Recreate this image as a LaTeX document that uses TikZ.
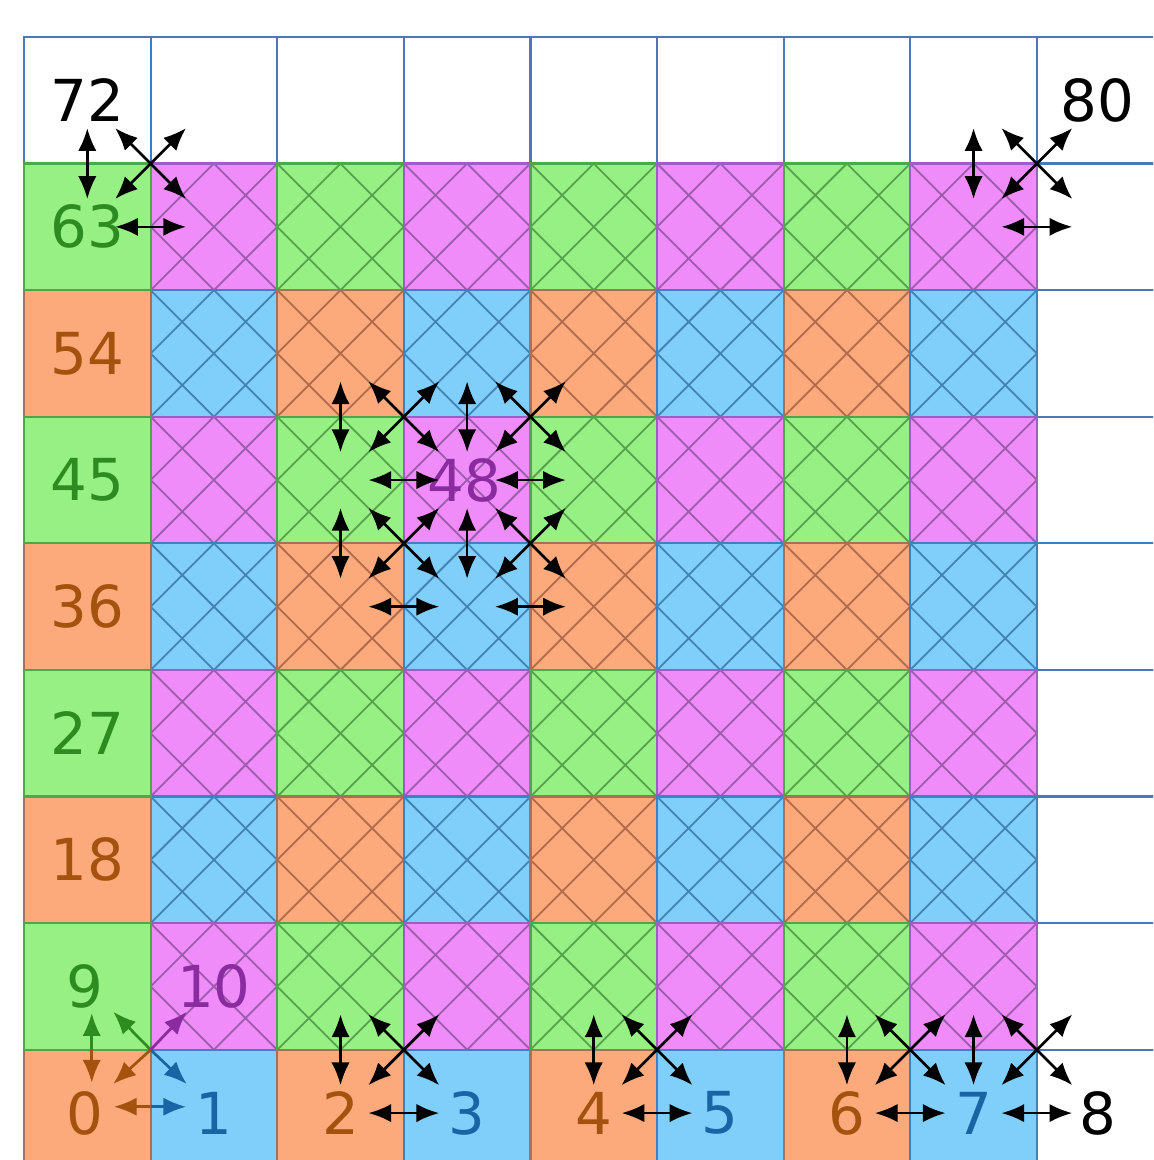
\documentclass[tikz,border=0pt]{standalone}
\usepackage{fontspec}
\setmainfont{DejaVu Sans}
\usetikzlibrary{arrows.meta,calc}
\definecolor{OF}{HTML}{FCA97B}\definecolor{OD}{HTML}{A8705A}\definecolor{OH}{HTML}{B06A4C}\definecolor{OL}{HTML}{A5520E}
\definecolor{BF}{HTML}{80CEFA}\definecolor{BD}{HTML}{3A82C4}\definecolor{BH}{HTML}{4282B4}\definecolor{BL}{HTML}{1864A5}
\definecolor{GF}{HTML}{96F084}\definecolor{GD}{HTML}{4CA848}\definecolor{GH}{HTML}{56A24C}\definecolor{GL}{HTML}{2E8B1F}
\definecolor{PF}{HTML}{F08CF9}\definecolor{PD}{HTML}{A05CC4}\definecolor{PH}{HTML}{9C5CAC}\definecolor{PL}{HTML}{8A2BA0}
\definecolor{gridc}{HTML}{4A78BC}
\newcommand\stencilgrp[3]{%
  \coordinate (#3va) at (#1-0.5,#2+0.28);
  \coordinate (#3vb) at (#1-0.5,#2-0.28);
  \coordinate (#3da) at (#1-0.28,#2+0.28);
  \coordinate (#3db) at (#1+0.28,#2-0.28);
  \coordinate (#3ea) at (#1-0.28,#2-0.28);
  \coordinate (#3eb) at (#1+0.28,#2+0.28);
  \coordinate (#3ha) at (#1-0.28,#2-0.5);
  \coordinate (#3hb) at (#1+0.28,#2-0.5);
  \draw[biarrow] (#3va) -- (#3vb);
  \draw[biarrow] (#3da) -- (#3db);
  \draw[biarrow] (#3ea) -- (#3eb);
  \draw[biarrow] (#3ha) -- (#3hb);
}
\newcommand\cellat[2]{%
  \pgfmathtruncatemacro\k{mod(#2,2)*2+mod(#1,2)}%
  \ifcase\k \def\cn{O}\or \def\cn{B}\or \def\cn{G}\or \def\cn{P}\fi
  \fill[\cn F] (#1,#2) rectangle ++(1,1);
  \ifnum#1>0 \ifnum#2>0
    \draw[\cn H, line width=0.4pt] (#1,#2+0.5) -- ++(0.5,0.5) (#1,#2) -- ++(1,1) (#1+0.5,#2) -- ++(0.5,0.5)
      (#1,#2+0.5) -- ++(0.5,-0.5) (#1,#2+1) -- ++(1,-1) (#1+0.5,#2+1) -- ++(0.5,-0.5);
  \fi\fi
  \draw[\cn D, line width=0.5pt] (#1,#2) rectangle ++(1,1);
}
\begin{document}
\begin{tikzpicture}[x=1cm,y=1cm,
  biarrow/.style={{Latex[length=1.8mm,width=1.45mm]}-{Latex[length=1.8mm,width=1.45mm]}, line width=0.6pt, black},
  halfarrow/.style={-{Latex[length=1.8mm,width=1.45mm]}, line width=0.6pt},
  gridline/.style={draw=gridc, line width=0.5pt},
  lab/.style={font=\fontsize{13}{15}\selectfont, inner sep=0pt}]
\useasboundingbox (-0.1896,0.1295) rectangle (8.918,9.292);
\clip (-0.1896,0.1295) rectangle (8.918,9.292);
% white cells
\foreach \c in {0,...,8} \draw[gridline] (\c,8) rectangle ++(1,1);
\foreach \r in {0,...,7} \draw[gridline] (8,\r) rectangle ++(1,1);
% coloured cells
\foreach \r in {7,6,...,0} {
  \foreach \c in {1,...,7} { \cellat{\c}{\r} }
}
\foreach \r in {6,4,2,0} { \cellat{0}{\r} }
\foreach \r in {7,5,3,1} { \cellat{0}{\r} }
% labels
\node[lab, text=black] (n72) at (0.5,8.5) {72};
\node[lab, text=black] (n80) at (8.48,8.5) {80};
\node[lab, text=GL] (n63) at (0.5,7.5) {63};
\node[lab, text=OL] (n54) at (0.5,6.5) {54};
\node[lab, text=GL] (n45) at (0.5,5.5) {45};
\node[lab, text=OL] (n36) at (0.5,4.5) {36};
\node[lab, text=GL] (n27) at (0.5,3.5) {27};
\node[lab, text=OL] (n18) at (0.5,2.5) {18};
\node[lab, text=GL] (n9) at (0.48,1.5) {9};
\node[lab, text=PL] (n10) at (1.5,1.5) {10};
\node[lab, text=PL] (n48) at (3.48,5.5) {48};
\node[lab, text=OL] (n0) at (0.48,0.5) {0};
\node[lab, text=BL] (n1) at (1.5,0.5) {1};
\node[lab, text=OL] (n2) at (2.5,0.5) {2};
\node[lab, text=BL] (n3) at (3.5,0.5) {3};
\node[lab, text=OL] (n4) at (4.5,0.5) {4};
\node[lab, text=BL] (n5) at (5.5,0.5) {5};
\node[lab, text=OL] (n6) at (6.5,0.5) {6};
\node[lab, text=BL] (n7) at (7.5,0.5) {7};
\node[lab, text=black] (n8) at (8.48,0.5) {8};
% stencils
\stencilgrp{1}{8}{sa}
\stencilgrp{8}{8}{sb}
\stencilgrp{3}{6}{sc}
\stencilgrp{4}{6}{sd}
\stencilgrp{3}{5}{se}
\stencilgrp{4}{5}{sf}
\stencilgrp{3}{1}{sg}
\stencilgrp{5}{1}{sh}
\stencilgrp{7}{1}{si}
\stencilgrp{8}{1}{sj}
% coloured stencil at corner (1,1)
\coordinate (cv) at (0.535,1.0);
\coordinate (cvt) at (0.535,1.29);
\coordinate (cvb) at (0.535,0.74);
\coordinate (cc) at (1,1);
\coordinate (cnw) at (0.705,1.30);
\coordinate (cse) at (1.285,0.73);
\coordinate (csw) at (0.705,0.73);
\coordinate (cne) at (1.285,1.30);
\coordinate (ch) at (1.0,0.55);
\coordinate (chl) at (0.71,0.55);
\coordinate (chr) at (1.28,0.55);
\draw[halfarrow, GL] (cv) -- (cvt);
\draw[halfarrow, OL] (cv) -- (cvb);
\draw[halfarrow, GL] (cc) -- (cnw);
\draw[halfarrow, BL] (cc) -- (cse);
\draw[halfarrow, OL] (cc) -- (csw);
\draw[halfarrow, PL] (cc) -- (cne);
\draw[halfarrow, OL] (ch) -- (chl);
\draw[halfarrow, BL] (ch) -- (chr);
\end{tikzpicture}
\end{document}
